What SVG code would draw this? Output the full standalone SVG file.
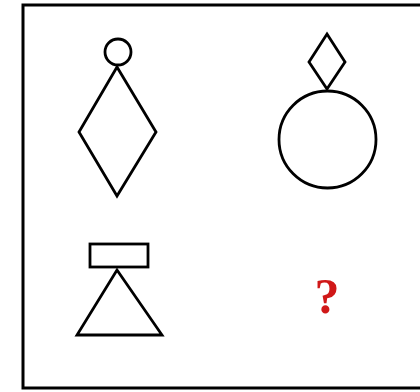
<svg xmlns="http://www.w3.org/2000/svg" width="420" height="392" viewBox="0 0 420 392">
<style>
.s{fill:none;stroke:#000;stroke-width:2.8;stroke-linejoin:miter}
</style>
<rect width="420" height="392" fill="#fff"/>
<rect x="23" y="5" width="410" height="383" fill="none" stroke="#000" stroke-width="3"/>
<g id="fig1">
<circle class="s" cx="118" cy="52" r="13"/>
<polygon class="s" points="117,67 156,132 117,196 79,132"/>
</g>
<g id="fig2">
<polygon class="s" points="327,34 345,62 327,89 309,62"/>
<circle class="s" cx="327.5" cy="139.5" r="48.5"/>
</g>
<g id="fig3">
<rect class="s" x="90" y="244" width="58" height="23"/>
<polygon class="s" points="117,270 162,335 77,335"/>
</g>
<g id="fig4">
<text x="327" y="313" font-family="Liberation Serif, serif" font-weight="bold" font-size="50" fill="#d01818" text-anchor="middle">?</text>
</g>
<g id="connectors"></g>
</svg>
